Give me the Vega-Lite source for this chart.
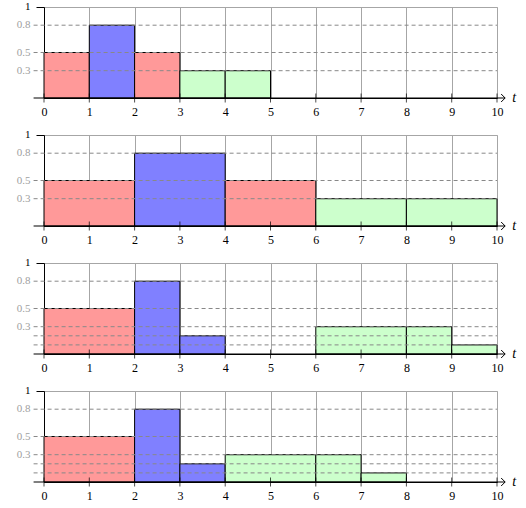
{
  "$schema": "https://vega.github.io/schema/vega-lite/v6.json",
  "padding": {"left": 16, "top": 0, "right": 0, "bottom": 0},
  "bounds": "flush",
  "spacing": 37,
  "background": "white",
  "config": {
    "view": {"stroke": "#a6a6a6", "strokeWidth": 1},
    "axis": {"labelFont": "Liberation Serif", "labelOverlap": false}
  },
  "datasets": {
    "bars": [
      {"panel": 1, "start": 0, "end": 1, "value": 0.5, "group": "red"},
      {"panel": 1, "start": 1, "end": 2, "value": 0.8, "group": "blue"},
      {"panel": 1, "start": 2, "end": 3, "value": 0.5, "group": "red"},
      {"panel": 1, "start": 3, "end": 4, "value": 0.3, "group": "green"},
      {"panel": 1, "start": 4, "end": 5, "value": 0.3, "group": "green"},
      {"panel": 2, "start": 0, "end": 2, "value": 0.5, "group": "red"},
      {"panel": 2, "start": 2, "end": 4, "value": 0.8, "group": "blue"},
      {"panel": 2, "start": 4, "end": 6, "value": 0.5, "group": "red"},
      {"panel": 2, "start": 6, "end": 8, "value": 0.3, "group": "green"},
      {"panel": 2, "start": 8, "end": 10, "value": 0.3, "group": "green"},
      {"panel": 3, "start": 0, "end": 2, "value": 0.5, "group": "red"},
      {"panel": 3, "start": 2, "end": 3, "value": 0.8, "group": "blue"},
      {"panel": 3, "start": 3, "end": 4, "value": 0.2, "group": "blue"},
      {"panel": 3, "start": 6, "end": 8, "value": 0.3, "group": "green"},
      {"panel": 3, "start": 8, "end": 9, "value": 0.3, "group": "green"},
      {"panel": 3, "start": 9, "end": 10, "value": 0.1, "group": "green"},
      {"panel": 4, "start": 0, "end": 2, "value": 0.5, "group": "red"},
      {"panel": 4, "start": 2, "end": 3, "value": 0.8, "group": "blue"},
      {"panel": 4, "start": 3, "end": 4, "value": 0.2, "group": "blue"},
      {"panel": 4, "start": 4, "end": 6, "value": 0.3, "group": "green"},
      {"panel": 4, "start": 6, "end": 7, "value": 0.3, "group": "green"},
      {"panel": 4, "start": 7, "end": 8, "value": 0.1, "group": "green"}
    ],
    "levels": [
      {"panel": 1, "level": 0.3}, {"panel": 1, "level": 0.5}, {"panel": 1, "level": 0.8},
      {"panel": 2, "level": 0.3}, {"panel": 2, "level": 0.5}, {"panel": 2, "level": 0.8},
      {"panel": 3, "level": 0.1}, {"panel": 3, "level": 0.2}, {"panel": 3, "level": 0.3}, {"panel": 3, "level": 0.5}, {"panel": 3, "level": 0.8},
      {"panel": 4, "level": 0.1}, {"panel": 4, "level": 0.2}, {"panel": 4, "level": 0.3}, {"panel": 4, "level": 0.5}, {"panel": 4, "level": 0.8}
    ],
    "ylabels": [
      {"v": 0.3, "text": "0.3"}, {"v": 0.5, "text": "0.5"}, {"v": 0.8, "text": "0.8"}, {"v": 1, "text": "1"}
    ],
    "ticks": [
      {"t": 0}, {"t": 1}, {"t": 2}, {"t": 3}, {"t": 4}, {"t": 5},
      {"t": 6}, {"t": 7}, {"t": 8}, {"t": 9}, {"t": 10}
    ],
    "axislabel": [{"label": "t"}]
  },
  "vconcat": [
    {
      "width": 453, "height": 91,
      "layer": [
        {
          "data": {"name": "bars"}, "transform": [{"filter": "datum.panel == 1"}],
          "mark": {"type": "rect", "stroke": "black", "strokeWidth": 1},
          "encoding": {
            "x": {"field": "start", "type": "quantitative", "scale": {"domain": [0, 10], "nice": false}, "title": null,
                  "axis": {"values": [0,1,2,3,4,5,6,7,8,9,10], "format": "d", "title": null, "ticks": false, "grid": true, "gridColor": "#a6a6a6", "domainColor": "black", "labelColor": "black", "labelFont": "Liberation Serif", "labelFontSize": 12, "labelPadding": 8, "labelFlush": false, "labelOverlap": false}},
            "x2": {"field": "end"},
            "y": {"field": "value", "type": "quantitative", "scale": {"domain": [0, 1], "nice": false}, "title": null,
                  "axis": {"values": [1], "title": null, "grid": false, "domainColor": "black", "tickSize": 8, "tickColor": "black", "labels": false}},
            "y2": {"datum": 0},
            "fill": {"field": "group", "type": "nominal", "scale": {"domain": ["red", "blue", "green"], "range": ["#ff9999", "#8080ff", "#ccffcc"]}, "legend": null}
          }
        },
        {
          "data": {"name": "levels"}, "transform": [{"filter": "datum.panel == 1"}],
          "mark": {"type": "rule", "stroke": "#888888", "strokeDash": [4, 3], "strokeWidth": 1},
          "encoding": {"x": {"datum": -0.23, "type": "quantitative", "title": null}, "x2": {"datum": 10}, "y": {"field": "level", "type": "quantitative", "title": null}}
        },
        {
          "data": {"name": "ylabels"},
          "mark": {"type": "text", "font": "Liberation Serif", "align": "right", "baseline": "middle", "fontSize": 11},
          "encoding": {"x": {"datum": -0.3, "type": "quantitative", "title": null}, "y": {"field": "v", "type": "quantitative", "title": null}, "text": {"field": "text"},
                       "color": {"condition": {"test": "datum.v == 1", "value": "black"}, "value": "#a0a0a0"}}
        },
        {
          "data": {"name": "axislabel"},
          "mark": {"type": "rule", "color": "black", "strokeWidth": 1},
          "encoding": {"x": {"datum": -0.23, "type": "quantitative", "title": null}, "x2": {"datum": 10.18}, "y": {"datum": 0, "type": "quantitative", "title": null}}
        },
        {
          "data": {"name": "ticks"},
          "mark": {"type": "tick", "orient": "vertical", "color": "black", "size": 9, "thickness": 1},
          "encoding": {"x": {"field": "t", "type": "quantitative", "title": null}, "y": {"datum": 0, "type": "quantitative", "title": null}}
        },
        {
          "data": {"name": "axislabel"},
          "mark": {"type": "point", "shape": "M-1,-1L0,0L-1,1", "filled": false, "stroke": "black", "strokeWidth": 1, "size": 64, "opacity": 1},
          "encoding": {"x": {"datum": 10.18, "type": "quantitative", "title": null}, "y": {"datum": 0, "type": "quantitative", "title": null}}
        },
        {
          "data": {"name": "axislabel"},
          "mark": {"type": "text", "font": "Liberation Serif", "fontStyle": "italic", "fontSize": 14, "align": "center", "baseline": "middle", "color": "black"},
          "encoding": {"x": {"datum": 10.38, "type": "quantitative", "title": null}, "y": {"datum": 0, "type": "quantitative", "title": null}, "text": {"field": "label"}}
        }
      ]
    },
    {
      "width": 453, "height": 91,
      "layer": [
        {
          "data": {"name": "bars"}, "transform": [{"filter": "datum.panel == 2"}],
          "mark": {"type": "rect", "stroke": "black", "strokeWidth": 1},
          "encoding": {
            "x": {"field": "start", "type": "quantitative", "scale": {"domain": [0, 10], "nice": false}, "title": null,
                  "axis": {"values": [0,1,2,3,4,5,6,7,8,9,10], "format": "d", "title": null, "ticks": false, "grid": true, "gridColor": "#a6a6a6", "domainColor": "black", "labelColor": "black", "labelFont": "Liberation Serif", "labelFontSize": 12, "labelPadding": 8, "labelFlush": false, "labelOverlap": false}},
            "x2": {"field": "end"},
            "y": {"field": "value", "type": "quantitative", "scale": {"domain": [0, 1], "nice": false}, "title": null,
                  "axis": {"values": [1], "title": null, "grid": false, "domainColor": "black", "tickSize": 8, "tickColor": "black", "labels": false}},
            "y2": {"datum": 0},
            "fill": {"field": "group", "type": "nominal", "scale": {"domain": ["red", "blue", "green"], "range": ["#ff9999", "#8080ff", "#ccffcc"]}, "legend": null}
          }
        },
        {
          "data": {"name": "levels"}, "transform": [{"filter": "datum.panel == 2"}],
          "mark": {"type": "rule", "stroke": "#888888", "strokeDash": [4, 3], "strokeWidth": 1},
          "encoding": {"x": {"datum": -0.23, "type": "quantitative", "title": null}, "x2": {"datum": 10}, "y": {"field": "level", "type": "quantitative", "title": null}}
        },
        {
          "data": {"name": "ylabels"},
          "mark": {"type": "text", "font": "Liberation Serif", "align": "right", "baseline": "middle", "fontSize": 11},
          "encoding": {"x": {"datum": -0.3, "type": "quantitative", "title": null}, "y": {"field": "v", "type": "quantitative", "title": null}, "text": {"field": "text"},
                       "color": {"condition": {"test": "datum.v == 1", "value": "black"}, "value": "#a0a0a0"}}
        },
        {
          "data": {"name": "axislabel"},
          "mark": {"type": "rule", "color": "black", "strokeWidth": 1},
          "encoding": {"x": {"datum": -0.23, "type": "quantitative", "title": null}, "x2": {"datum": 10.18}, "y": {"datum": 0, "type": "quantitative", "title": null}}
        },
        {
          "data": {"name": "ticks"},
          "mark": {"type": "tick", "orient": "vertical", "color": "black", "size": 9, "thickness": 1},
          "encoding": {"x": {"field": "t", "type": "quantitative", "title": null}, "y": {"datum": 0, "type": "quantitative", "title": null}}
        },
        {
          "data": {"name": "axislabel"},
          "mark": {"type": "point", "shape": "M-1,-1L0,0L-1,1", "filled": false, "stroke": "black", "strokeWidth": 1, "size": 64, "opacity": 1},
          "encoding": {"x": {"datum": 10.18, "type": "quantitative", "title": null}, "y": {"datum": 0, "type": "quantitative", "title": null}}
        },
        {
          "data": {"name": "axislabel"},
          "mark": {"type": "text", "font": "Liberation Serif", "fontStyle": "italic", "fontSize": 14, "align": "center", "baseline": "middle", "color": "black"},
          "encoding": {"x": {"datum": 10.38, "type": "quantitative", "title": null}, "y": {"datum": 0, "type": "quantitative", "title": null}, "text": {"field": "label"}}
        }
      ]
    },
    {
      "width": 453, "height": 91,
      "layer": [
        {
          "data": {"name": "bars"}, "transform": [{"filter": "datum.panel == 3"}],
          "mark": {"type": "rect", "stroke": "black", "strokeWidth": 1},
          "encoding": {
            "x": {"field": "start", "type": "quantitative", "scale": {"domain": [0, 10], "nice": false}, "title": null,
                  "axis": {"values": [0,1,2,3,4,5,6,7,8,9,10], "format": "d", "title": null, "ticks": false, "grid": true, "gridColor": "#a6a6a6", "domainColor": "black", "labelColor": "black", "labelFont": "Liberation Serif", "labelFontSize": 12, "labelPadding": 8, "labelFlush": false, "labelOverlap": false}},
            "x2": {"field": "end"},
            "y": {"field": "value", "type": "quantitative", "scale": {"domain": [0, 1], "nice": false}, "title": null,
                  "axis": {"values": [1], "title": null, "grid": false, "domainColor": "black", "tickSize": 8, "tickColor": "black", "labels": false}},
            "y2": {"datum": 0},
            "fill": {"field": "group", "type": "nominal", "scale": {"domain": ["red", "blue", "green"], "range": ["#ff9999", "#8080ff", "#ccffcc"]}, "legend": null}
          }
        },
        {
          "data": {"name": "levels"}, "transform": [{"filter": "datum.panel == 3"}],
          "mark": {"type": "rule", "stroke": "#888888", "strokeDash": [4, 3], "strokeWidth": 1},
          "encoding": {"x": {"datum": -0.23, "type": "quantitative", "title": null}, "x2": {"datum": 10}, "y": {"field": "level", "type": "quantitative", "title": null}}
        },
        {
          "data": {"name": "ylabels"},
          "mark": {"type": "text", "font": "Liberation Serif", "align": "right", "baseline": "middle", "fontSize": 11},
          "encoding": {"x": {"datum": -0.3, "type": "quantitative", "title": null}, "y": {"field": "v", "type": "quantitative", "title": null}, "text": {"field": "text"},
                       "color": {"condition": {"test": "datum.v == 1", "value": "black"}, "value": "#a0a0a0"}}
        },
        {
          "data": {"name": "axislabel"},
          "mark": {"type": "rule", "color": "black", "strokeWidth": 1},
          "encoding": {"x": {"datum": -0.23, "type": "quantitative", "title": null}, "x2": {"datum": 10.18}, "y": {"datum": 0, "type": "quantitative", "title": null}}
        },
        {
          "data": {"name": "ticks"},
          "mark": {"type": "tick", "orient": "vertical", "color": "black", "size": 9, "thickness": 1},
          "encoding": {"x": {"field": "t", "type": "quantitative", "title": null}, "y": {"datum": 0, "type": "quantitative", "title": null}}
        },
        {
          "data": {"name": "axislabel"},
          "mark": {"type": "point", "shape": "M-1,-1L0,0L-1,1", "filled": false, "stroke": "black", "strokeWidth": 1, "size": 64, "opacity": 1},
          "encoding": {"x": {"datum": 10.18, "type": "quantitative", "title": null}, "y": {"datum": 0, "type": "quantitative", "title": null}}
        },
        {
          "data": {"name": "axislabel"},
          "mark": {"type": "text", "font": "Liberation Serif", "fontStyle": "italic", "fontSize": 14, "align": "center", "baseline": "middle", "color": "black"},
          "encoding": {"x": {"datum": 10.38, "type": "quantitative", "title": null}, "y": {"datum": 0, "type": "quantitative", "title": null}, "text": {"field": "label"}}
        }
      ]
    },
    {
      "width": 453, "height": 91,
      "layer": [
        {
          "data": {"name": "bars"}, "transform": [{"filter": "datum.panel == 4"}],
          "mark": {"type": "rect", "stroke": "black", "strokeWidth": 1},
          "encoding": {
            "x": {"field": "start", "type": "quantitative", "scale": {"domain": [0, 10], "nice": false}, "title": null,
                  "axis": {"values": [0,1,2,3,4,5,6,7,8,9,10], "format": "d", "title": null, "ticks": false, "grid": true, "gridColor": "#a6a6a6", "domainColor": "black", "labelColor": "black", "labelFont": "Liberation Serif", "labelFontSize": 12, "labelPadding": 8, "labelFlush": false, "labelOverlap": false}},
            "x2": {"field": "end"},
            "y": {"field": "value", "type": "quantitative", "scale": {"domain": [0, 1], "nice": false}, "title": null,
                  "axis": {"values": [1], "title": null, "grid": false, "domainColor": "black", "tickSize": 8, "tickColor": "black", "labels": false}},
            "y2": {"datum": 0},
            "fill": {"field": "group", "type": "nominal", "scale": {"domain": ["red", "blue", "green"], "range": ["#ff9999", "#8080ff", "#ccffcc"]}, "legend": null}
          }
        },
        {
          "data": {"name": "levels"}, "transform": [{"filter": "datum.panel == 4"}],
          "mark": {"type": "rule", "stroke": "#888888", "strokeDash": [4, 3], "strokeWidth": 1},
          "encoding": {"x": {"datum": -0.23, "type": "quantitative", "title": null}, "x2": {"datum": 10}, "y": {"field": "level", "type": "quantitative", "title": null}}
        },
        {
          "data": {"name": "ylabels"},
          "mark": {"type": "text", "font": "Liberation Serif", "align": "right", "baseline": "middle", "fontSize": 11},
          "encoding": {"x": {"datum": -0.3, "type": "quantitative", "title": null}, "y": {"field": "v", "type": "quantitative", "title": null}, "text": {"field": "text"},
                       "color": {"condition": {"test": "datum.v == 1", "value": "black"}, "value": "#a0a0a0"}}
        },
        {
          "data": {"name": "axislabel"},
          "mark": {"type": "rule", "color": "black", "strokeWidth": 1},
          "encoding": {"x": {"datum": -0.23, "type": "quantitative", "title": null}, "x2": {"datum": 10.18}, "y": {"datum": 0, "type": "quantitative", "title": null}}
        },
        {
          "data": {"name": "ticks"},
          "mark": {"type": "tick", "orient": "vertical", "color": "black", "size": 9, "thickness": 1},
          "encoding": {"x": {"field": "t", "type": "quantitative", "title": null}, "y": {"datum": 0, "type": "quantitative", "title": null}}
        },
        {
          "data": {"name": "axislabel"},
          "mark": {"type": "point", "shape": "M-1,-1L0,0L-1,1", "filled": false, "stroke": "black", "strokeWidth": 1, "size": 64, "opacity": 1},
          "encoding": {"x": {"datum": 10.18, "type": "quantitative", "title": null}, "y": {"datum": 0, "type": "quantitative", "title": null}}
        },
        {
          "data": {"name": "axislabel"},
          "mark": {"type": "text", "font": "Liberation Serif", "fontStyle": "italic", "fontSize": 14, "align": "center", "baseline": "middle", "color": "black"},
          "encoding": {"x": {"datum": 10.38, "type": "quantitative", "title": null}, "y": {"datum": 0, "type": "quantitative", "title": null}, "text": {"field": "label"}}
        }
      ]
    }
  ]
}
